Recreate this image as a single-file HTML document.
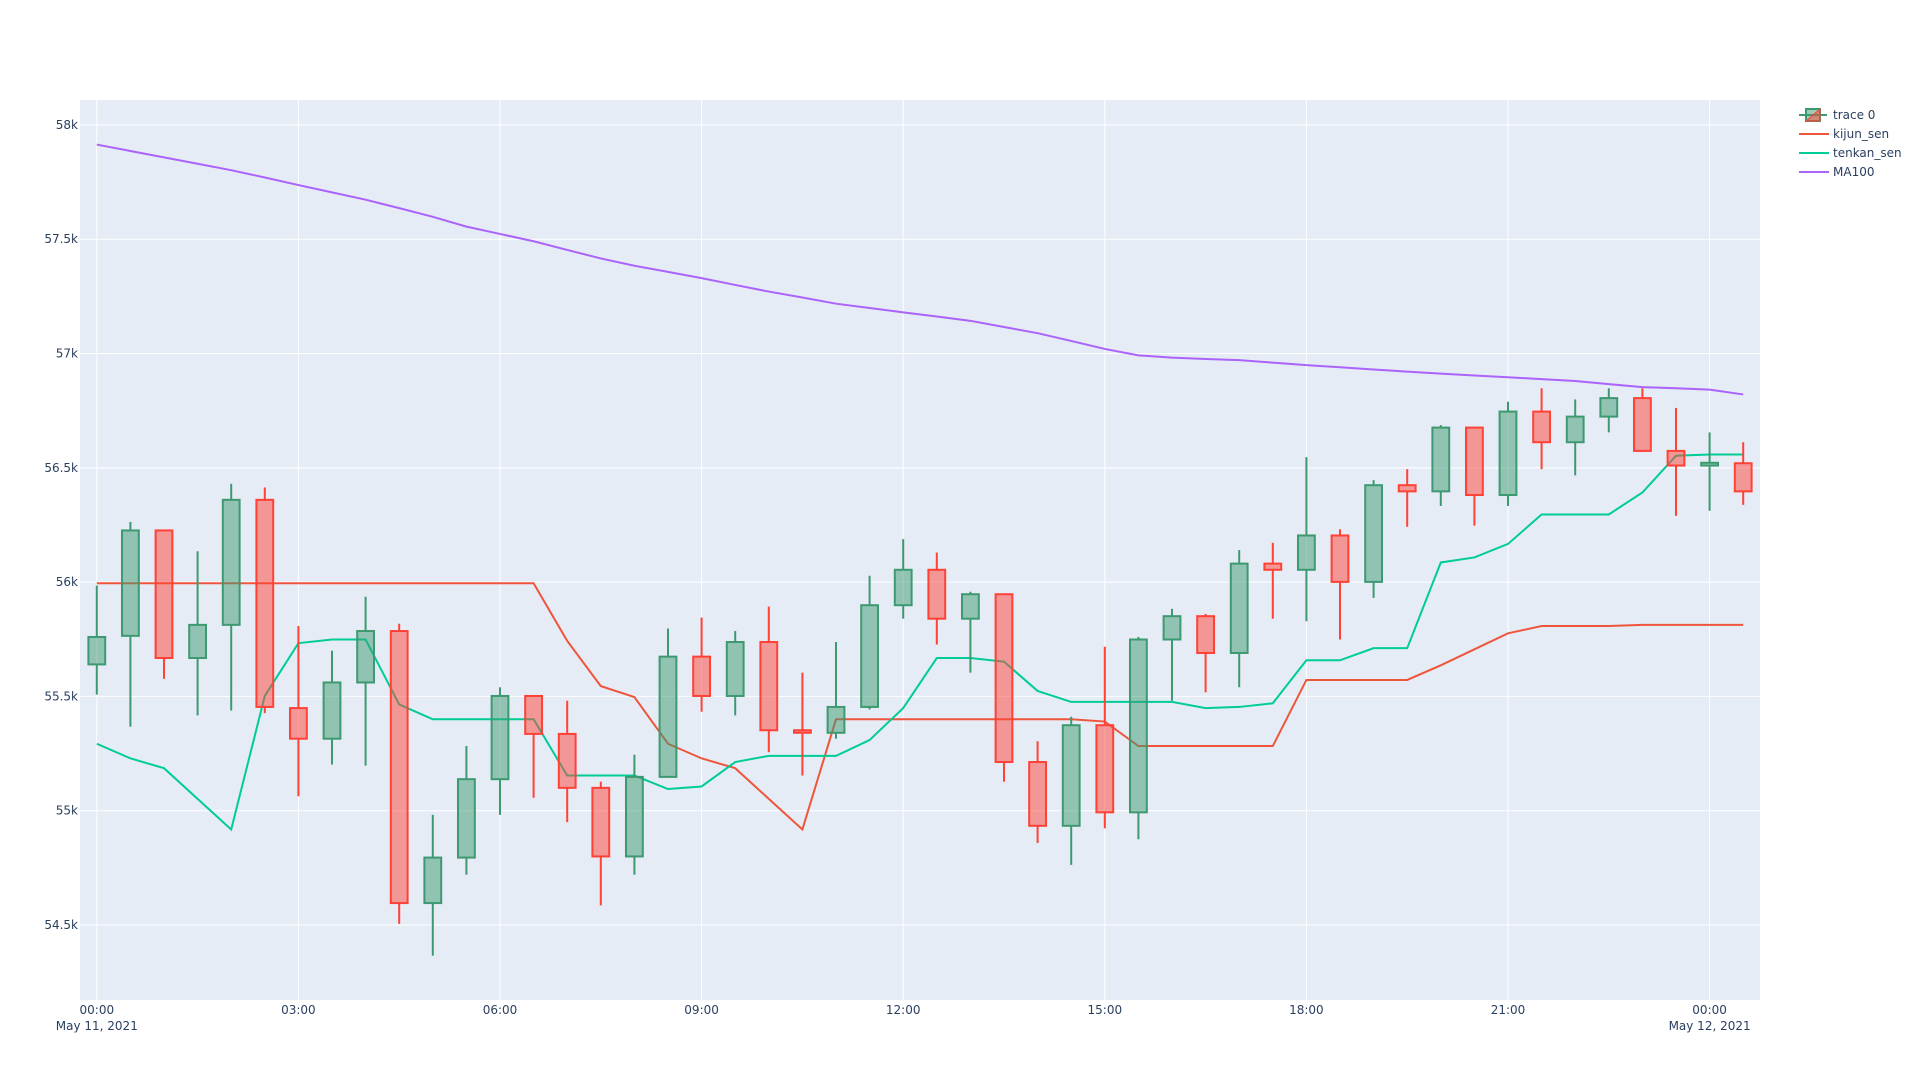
<!DOCTYPE html>
<html><head><meta charset="utf-8">
<style>
html,body{margin:0;padding:0;background:#fff;}
svg{display:block;font-family:"DejaVu Sans","Liberation Sans",sans-serif;}
</style></head>
<body>
<svg id="chart" width="1920" height="1080" xmlns="http://www.w3.org/2000/svg">
<rect x="80" y="100" width="1680" height="900" fill="#E5ECF6"/>
<g id="grid"></g>
<g id="kijun"></g>
<g id="tenkan"></g>
<g id="ma"></g>
<g id="candles"></g>
<g id="yaxis"></g>
<g id="xaxis"></g>
<g id="legend"></g>
</svg>
<script>
const opens=[55640,55765,56226,55668,55813,56360,55449,55315,55561,55786,54596,54795,55138,55502,55336,55100,54800,55148,55674,55502,55738,55352,55341,55454,55899,56054,55840,55947,55213,54934,55374,54993,55749,55851,55690,56081,56054,56204,56001,56424,56397,56676,56381,56746,56612,56724,56805,56574,56510,56520];
const closes=[55760,56226,55668,55813,56360,55454,55315,55561,55786,54596,54795,55138,55502,55336,55100,54800,55148,55674,55502,55738,55352,55341,55454,55899,56054,55840,55947,55213,54934,55374,54993,55749,55851,55690,56081,56054,56204,56001,56424,56397,56676,56381,56746,56612,56724,56805,56574,56510,56522,56397];
const highs=[55985,56263,56226,56135,56430,56414,55808,55700,55936,55818,54982,55283,55540,55502,55481,55127,55245,55797,55845,55786,55893,55604,55738,56028,56188,56129,55958,55947,55304,55411,55717,55760,55883,55861,56140,56172,56547,56231,56446,56494,56687,56676,56789,56848,56799,56848,56848,56762,56655,56612];
const lows=[55508,55368,55577,55417,55438,55427,55063,55202,55197,54505,54366,54720,54982,55057,54950,54586,54720,55148,55433,55417,55256,55154,55315,55443,55840,55727,55604,55127,54859,54763,54923,54875,55481,55518,55540,55840,55829,55749,55931,56242,56333,56247,56333,56494,56467,56655,56569,56290,56312,56338];
const kijun=[55995,55995,55995,55995,55995,55995,55995,55995,55995,55995,55995,55995,55995,55995,55743,55545,55497,55293,55229,55186,55052,54918,55400,55400,55400,55400,55400,55400,55400,55400,55390,55283,55283,55283,55283,55283,55572,55572,55572,55572,55636,55706,55776,55808,55808,55808,55813,55813,55813,55813];
const tenkan=[55293,55229,55186,55052,54918,55502,55733,55749,55749,55465,55400,55400,55400,55400,55154,55154,55154,55095,55106,55213,55240,55240,55240,55309,55449,55668,55668,55652,55524,55476,55476,55476,55476,55449,55454,55470,55658,55658,55711,55711,56086,56108,56167,56296,56296,56296,56392,56553,56558,56558];
const ma100=[57914,57886,57858,57830,57802,57770,57737,57705,57673,57636,57598,57555,57523,57491,57453,57416,57384,57357,57330,57300,57271,57245,57218,57199,57180,57162,57143,57116,57089,57055,57020,56992,56982,56976,56971,56960,56949,56940,56930,56921,56912,56904,56896,56888,56880,56866,56853,56848,56842,56821];
const yTicks=[54500,55000,55500,56000,56500,57000,57500,58000];
const yTickLabels=["54.5k","55k","55.5k","56k","56.5k","57k","57.5k","58k"];
const xTickIdx=[0,6,12,18,24,30,36,42,48];
const xTickLabels=["00:00","03:00","06:00","09:00","12:00","15:00","18:00","21:00","00:00"];
const xTickSub=["May 11, 2021","","","","","","","","May 12, 2021"];

const NS="http://www.w3.org/2000/svg";
const X0=80,X1=1760,Y0=100,Y1=1000;
const xMin=-0.5,xMax=49.5,yMin=54172,yMax=58109;
const xs=i=>X0+(i-xMin)/(xMax-xMin)*(X1-X0);
const ys=v=>Y1-(v-yMin)/(yMax-yMin)*(Y1-Y0);
function mk(tag,attrs,parent){const e=document.createElementNS(NS,tag);for(const k in attrs)e.setAttribute(k,attrs[k]);parent.appendChild(e);return e;}

const grid=document.getElementById('grid');
yTicks.forEach(v=>{const l=mk('line',{x1:X0,x2:X1,y1:ys(v),y2:ys(v),stroke:'#fff','stroke-width':1},grid);

});
xTickIdx.forEach(i=>{const l=mk('line',{x1:xs(i),x2:xs(i),y1:Y0,y2:Y1,stroke:'#fff','stroke-width':1},grid);

});

const yax=document.getElementById('yaxis');
yTicks.forEach((v,k)=>{const t=mk('text',{x:X0-2,y:ys(v)+4,'text-anchor':'end','font-size':12,fill:'#2a3f5f'},yax);t.textContent=yTickLabels[k];

});
const xax=document.getElementById('xaxis');
xTickIdx.forEach((i,k)=>{const t=mk('text',{x:xs(i),y:1014,'text-anchor':'middle','font-size':12,fill:'#2a3f5f'},xax);t.textContent=xTickLabels[k];


if(xTickSub[k]){const s=mk('text',{x:xs(i),y:1030,'text-anchor':'middle','font-size':12,fill:'#2a3f5f'},xax);s.textContent=xTickSub[k];

}});

function line(arr,color,gid){const g=document.getElementById(gid);
const p=mk('polyline',{points:arr.map((v,i)=>xs(i)+','+ys(v)).join(' '),fill:'none',stroke:color,'stroke-width':2},g);

}
line(kijun,'#EF553B','kijun');
line(tenkan,'#00CC96','tenkan');
line(ma100,'#AB63FA','ma');

const cg=document.getElementById('candles');
const hw=(xs(1)-xs(0))*0.25;
opens.forEach((o,i)=>{const c=closes[i];const up=c>=o;const col=up?'#3D9970':'#FF4136';const fill=up?'rgba(61,153,112,0.5)':'rgba(255,65,54,0.5)';
const g=mk('g',{},cg);


const x=xs(i),yt=ys(Math.max(o,c)),yb=ys(Math.min(o,c));
mk('line',{x1:x,x2:x,y1:ys(highs[i]),y2:yt,stroke:col,'stroke-width':2},g);
mk('line',{x1:x,x2:x,y1:yb,y2:ys(lows[i]),stroke:col,'stroke-width':2},g);
mk('rect',{x:x-hw,y:yt,width:2*hw,height:Math.max(yb-yt,1),fill:fill,stroke:col,'stroke-width':2},g);});

const lg=document.getElementById('legend');
const items=[["trace 0","candle"],["kijun_sen","#EF553B"],["tenkan_sen","#00CC96"],["MA100","#AB63FA"]];
items.forEach((it,k)=>{const y=115+k*19;const g=mk('g',{},lg);


if(it[1]==='candle'){mk('line',{x1:1799,x2:1827,y1:y,y2:y,stroke:'#3D9970','stroke-width':2},g);
mk('rect',{x:1806,y:y-6,width:14,height:12,fill:'rgba(61,153,112,0.5)',stroke:'#3D9970','stroke-width':2},g);
mk('path',{d:`M1806 ${y+6} L1820 ${y-6} L1820 ${y+6} Z`,fill:'rgba(255,65,54,0.5)',stroke:'#FF4136','stroke-width':1},g);}
else mk('line',{x1:1799,x2:1829,y1:y,y2:y,stroke:it[1],'stroke-width':2},g);
const t=mk('text',{x:1833,y:y+4,'font-size':12,fill:'#2a3f5f'},g);t.textContent=it[0];});
</script>
</body></html>
